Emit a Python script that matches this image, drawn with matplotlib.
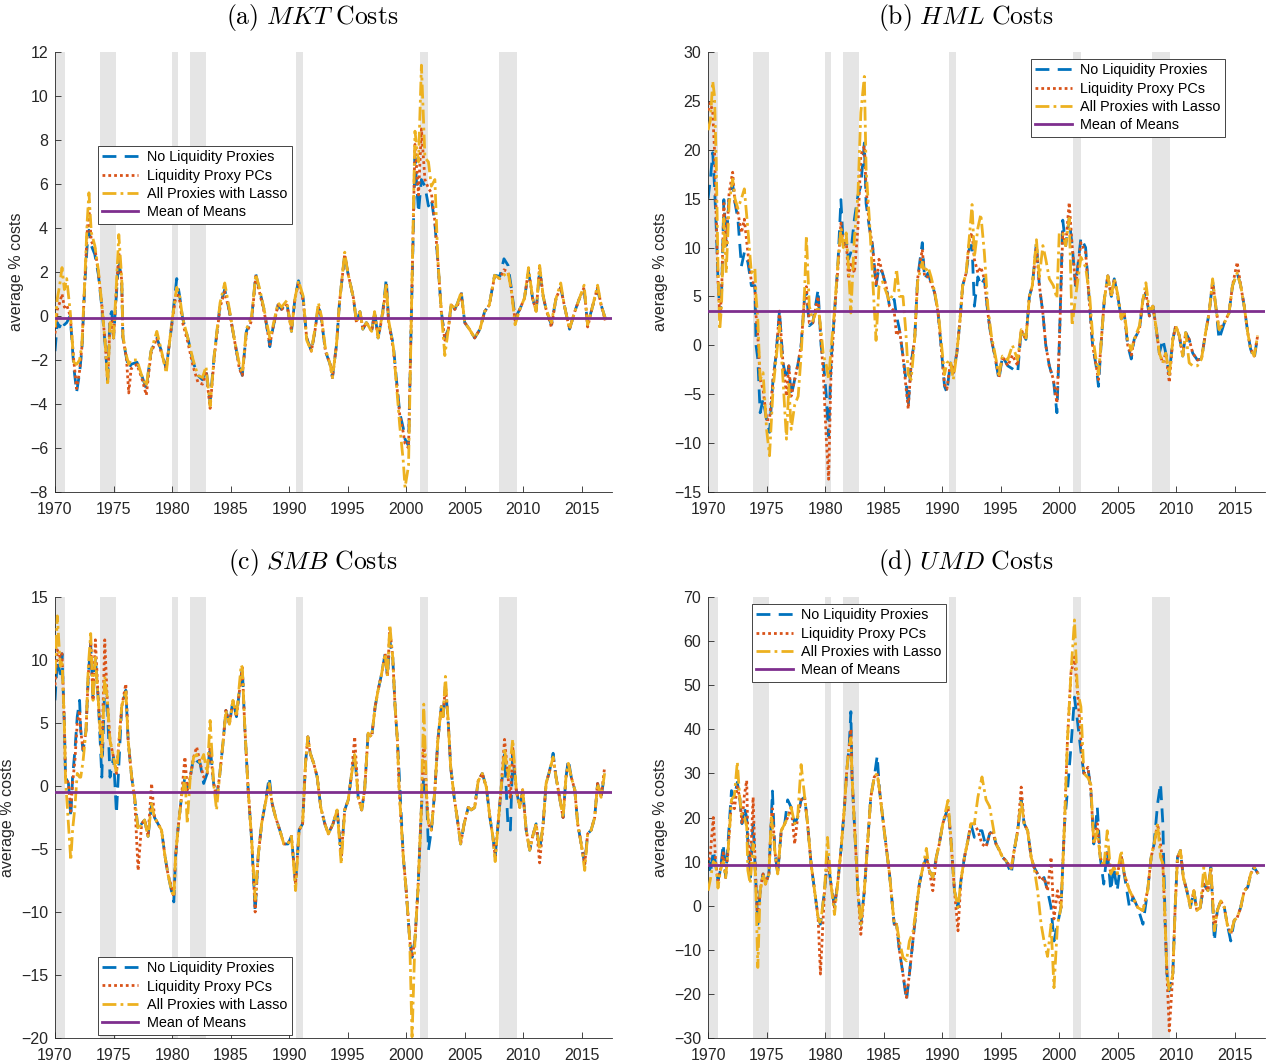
import matplotlib.pyplot as plt
from matplotlib.lines import Line2D

plt.rcParams["font.family"] = ["Liberation Sans", "DejaVu Sans"]
plt.rcParams["mathtext.fontset"] = "cm"

# MATLAB default colours
BLUE = (0.0, 0.447, 0.741)
RED = (0.850, 0.325, 0.098)
YELLOW = (0.929, 0.694, 0.125)
PURPLE = (0.494, 0.184, 0.556)

LABELS = ["No Liquidity Proxies", "Liquidity Proxy PCs",
          "All Proxies with Lasso", "Mean of Means"]

# NBER recessions (decimal years)
RECESSIONS = [(1969.92, 1970.87), (1973.87, 1975.2), (1980.0, 1980.5),
              (1981.5, 1982.87), (1990.55, 1991.2), (2001.2, 2001.87),
              (2007.95, 2009.5)]

# ---------------- (a) MKT ----------------
a_years = [1970.0, 1970.2, 1970.4, 1970.6, 1970.8, 1971.0, 1971.3, 1971.6, 1971.85, 1972.1,
           1972.3, 1972.55, 1972.75, 1972.9, 1973.1, 1973.4, 1973.7, 1974.0, 1974.3, 1974.5,
           1974.7, 1974.85, 1975.0, 1975.25, 1975.45, 1975.7, 1975.8, 1976.1, 1976.3, 1976.5,
           1977.0, 1977.4, 1977.8, 1978.2, 1978.7, 1979.1, 1979.5, 1979.95, 1980.4, 1980.65,
           1980.9, 1981.35, 1981.8, 1982.2, 1982.6, 1982.9, 1983.25, 1983.6, 1984.1, 1984.5,
           1984.9, 1985.3, 1985.75, 1986.0, 1986.35, 1986.8, 1987.15, 1987.5, 1987.9, 1988.35,
           1988.6, 1989.05, 1989.35, 1989.8, 1990.2, 1990.5, 1990.8, 1991.2, 1991.5, 1991.9,
           1992.2, 1992.5, 1992.75, 1993.1, 1993.5, 1993.7, 1994.05, 1994.3, 1994.75, 1995.0,
           1995.5, 1995.75, 1996.05, 1996.3, 1996.6, 1997.05, 1997.3, 1997.6, 1998.0, 1998.3,
           1998.5, 1998.9, 1999.15, 1999.45, 1999.75, 1999.9, 2000.2, 2000.45, 2000.75, 2001.05,
           2001.3, 2001.6, 2001.9, 2002.15, 2002.45, 2002.7, 2003.0, 2003.3, 2003.6, 2003.85,
           2004.15, 2004.4, 2004.7, 2005.0, 2005.4, 2005.85, 2006.3, 2006.7, 2007.1, 2007.55,
           2008.0, 2008.35, 2008.7, 2009.0, 2009.3, 2009.7, 2010.1, 2010.45, 2010.8, 2011.1,
           2011.4, 2011.7, 2011.95, 2012.4, 2012.8, 2013.2, 2013.5, 2013.95, 2014.4, 2014.8,
           2015.2, 2015.5, 2015.95, 2016.35, 2016.65, 2017.0]
a_none = [-1.6, -0.3, -0.5, -0.2, -0.4, -0.3, 0.0, -2.3, -3.45, -2.6,
          -1.5, 1.5, 3.2, 3.9, 3.2, 2.8, 1.9, 0.4, -1.4, -2.9,
          0.0, 0.2, -1.0, 1.0, 2.6, 1.5, -1.0, -1.9, -2.4, -2.2,
          -2.1, -2.7, -3.3, -1.6, -1.0, -1.6, -2.4, -0.5, 1.7, 0.9,
          -0.1, -1.0, -2.1, -2.7, -2.9, -2.4, -3.9, -1.8, 0.5, 1.2,
          0.2, -1.0, -2.3, -2.7, -0.7, -0.1, 1.9, 1.1, 0.2, -1.4,
          -0.6, 0.5, 0.3, 0.6, -0.7, 0.8, 1.6, 0.8, -1.0, -1.6,
          -0.7, 0.5, -0.1, -1.6, -2.2, -2.8, -1.3, 0.6, 2.8, 2.0,
          0.8, -0.3, 0.2, -0.6, -0.3, -0.7, 0.2, -1.0, 0.2, 1.7,
          -0.3, -1.3, -2.8, -4.4, -5.1, -5.6, -5.9, 0.2, 7.2, 4.7,
          6.2, 5.9, 5.0, 5.3, 4.2, 2.5, 0.2, -1.0, -0.6, 0.6,
          0.3, 0.6, 1.1, -0.3, -0.6, -1.0, -0.6, 0.2, 0.5, 1.85,
          1.8, 2.6, 2.3, 1.2, -0.1, 0.3, 0.8, 2.0, 0.8, 0.2,
          2.1, 0.9, 0.3, -0.4, 0.8, 1.3, 0.5, -0.6, 0.2, 0.8,
          1.2, -0.4, 0.5, 1.2, 0.5, -0.1]
a_pcs = [-0.8, 0.3, 0.6, 1.0, 0.4, 0.5, 0.0, -2.0, -3.3, -2.5,
         -1.4, 1.6, 3.8, 4.9, 3.4, 3.1, 2.0, 0.5, -1.3, -3.0,
         -0.3, -0.2, -1.0, 1.2, 2.9, 1.6, -1.0, -1.9, -3.5, -2.4,
         -2.2, -2.8, -3.6, -1.7, -1.0, -1.7, -2.4, -0.5, 1.2, 0.7,
         -0.3, -1.2, -2.3, -3.0, -3.1, -2.5, -4.2, -1.9, 0.4, 1.1,
         0.2, -1.0, -2.4, -2.7, -0.8, -0.2, 1.8, 1.0, 0.1, -1.3,
         -0.6, 0.5, 0.3, 0.5, -0.6, 0.8, 1.5, 0.7, -1.0, -1.6,
         -0.7, 0.4, -0.1, -1.6, -2.2, -2.8, -1.3, 0.6, 2.8, 2.0,
         0.8, -0.3, 0.2, -0.6, -0.3, -0.7, 0.1, -1.0, 0.1, 1.4,
         -0.3, -1.5, -2.9, -4.5, -5.3, -5.8, -6.0, 0.2, 7.8, 5.5,
         8.5, 6.2, 5.8, 5.6, 4.3, 2.5, 0.2, -1.1, -0.6, 0.5,
         0.3, 0.5, 1.0, -0.3, -0.6, -1.0, -0.6, 0.2, 0.5, 1.8,
         1.7, 2.1, 2.0, 1.1, -0.2, 0.3, 0.8, 2.1, 0.8, 0.2,
         2.2, 0.9, 0.3, -0.5, 0.8, 1.3, 0.5, -0.6, 0.2, 0.8,
         1.3, -0.5, 0.5, 1.3, 0.5, -0.2]
a_lasso = [-0.5, 0.8, 1.4, 2.2, 1.2, 1.7, 0.2, -2.1, -2.2, -2.0,
           -1.3, 1.7, 4.3, 5.6, 3.8, 3.2, 2.1, 0.5, -1.3, -3.15,
           -0.3, -0.4, -1.0, 1.5, 3.7, 1.7, -0.9, -1.8, -2.2, -2.0,
           -2.0, -2.7, -3.2, -1.6, -0.7, -1.6, -2.6, -0.4, 1.3, 0.9,
           -0.1, -1.0, -2.0, -2.7, -2.8, -2.3, -4.1, -1.8, 0.6, 1.5,
           0.3, -1.0, -2.2, -2.6, -0.6, 0.0, 1.9, 1.2, 0.2, -1.0,
           -0.5, 0.6, 0.4, 0.7, -0.7, 0.8, 1.6, 0.9, -1.1, -1.6,
           -0.6, 0.6, 0.0, -1.5, -2.2, -2.8, -1.3, 0.6, 2.9, 2.0,
           0.8, -0.3, 0.2, -0.6, -0.3, -0.7, 0.2, -1.0, 0.2, 1.5,
           -0.2, -1.4, -3.0, -5.0, -6.6, -7.8, -6.8, 0.3, 8.4, 7.0,
           11.4, 7.2, 7.0, 5.9, 6.2, 2.6, 0.2, -1.8, -0.6, 0.6,
           0.3, 0.6, 1.1, -0.3, -0.6, -1.0, -0.6, 0.2, 0.5, 1.85,
           1.7, 1.85, 2.0, 1.1, -0.4, 0.3, 0.8, 2.2, 0.8, 0.2,
           2.3, 0.9, 0.3, -0.3, 0.8, 1.5, 0.5, -0.6, 0.2, 0.8,
           1.4, -0.4, 0.5, 1.4, 0.5, -0.1]

# ---------------- (b) HML ----------------
b_years = [1970.0, 1970.2, 1970.4, 1970.55, 1970.7, 1970.85, 1971.0, 1971.15, 1971.35, 1971.55,
           1971.8, 1972.1, 1972.3, 1972.55, 1972.85, 1973.1, 1973.4, 1973.7, 1974.0, 1974.1,
           1974.25, 1974.45, 1974.7, 1975.0, 1975.25, 1975.55, 1975.8, 1976.1, 1976.4, 1976.7,
           1976.9, 1977.1, 1977.4, 1977.7, 1977.95, 1978.25, 1978.4, 1978.65, 1978.95, 1979.4,
           1979.65, 1979.85, 1980.1, 1980.3, 1980.5, 1980.8, 1981.1, 1981.35, 1981.55, 1981.8,
           1982.0, 1982.2, 1982.5, 1982.8, 1983.05, 1983.35, 1983.5, 1983.8, 1984.05, 1984.35,
           1984.6, 1984.9, 1985.2, 1985.5, 1985.9, 1986.1, 1986.35, 1986.65, 1986.9, 1987.1,
           1987.35, 1987.65, 1987.9, 1988.3, 1988.5, 1988.8, 1989.05, 1989.35, 1989.65, 1989.9,
           1990.2, 1990.4, 1990.7, 1990.95, 1991.25, 1991.5, 1991.75, 1992.05, 1992.35, 1992.55,
           1992.75, 1993.05, 1993.3, 1993.6, 1993.9, 1994.2, 1994.45, 1994.85, 1995.15, 1995.6,
           1996.0, 1996.45, 1996.75, 1997.15, 1997.45, 1997.7, 1998.05, 1998.3, 1998.6, 1998.85,
           1999.15, 1999.5, 1999.8, 2000.0, 2000.3, 2000.55, 2000.85, 2001.1, 2001.4, 2001.85,
           2002.25, 2002.6, 2002.85, 2003.15, 2003.35, 2003.6, 2003.85, 2004.15, 2004.45, 2004.7,
           2005.0, 2005.3, 2005.55, 2005.85, 2006.15, 2006.4, 2006.85, 2007.15, 2007.4, 2007.7,
           2008.0, 2008.25, 2008.55, 2008.85, 2009.1, 2009.4, 2009.7, 2009.95, 2010.25, 2010.55,
           2010.8, 2011.1, 2011.4, 2011.8, 2012.15, 2012.5, 2012.8, 2013.1, 2013.4, 2013.65,
           2014.1, 2014.5, 2014.8, 2015.2, 2015.5, 2015.8, 2016.1, 2016.35, 2016.65, 2016.95]
b_none = [15.0, 17.0, 19.7, 16.3, 12.0, 6.8, 3.3, 5.0, 14.9, 10.2,
          15.3, 16.5, 14.6, 12.9, 8.1, 9.5, 8.5, 6.1, 6.1, 0.0,
          -1.4, -6.9, -5.5, -7.6, -8.9, -3.5, -1.1, 3.5, -1.8, -3.5,
          -2.1, -5.2, -3.5, -1.8, 0.0, 5.0, 5.4, 2.0, 2.3, 5.7,
          0.0, -1.8, -5.2, -9.3, -1.8, 3.3, 8.5, 14.9, 10.2, 10.8,
          8.8, 9.5, 12.9, 15.3, 16.3, 20.7, 14.5, 11.9, 10.2, 6.1,
          8.0, 7.4, 6.1, 4.0, 4.7, 3.0, 1.6, -1.1, -3.5, -6.2,
          -1.8, 0.6, 6.8, 10.5, 6.8, 7.4, 6.4, 5.4, 3.3, 0.0,
          -4.2, -4.8, -1.8, -2.8, -0.8, 2.3, 6.1, 7.4, 10.2, 10.2,
          4.0, 7.0, 6.1, 6.8, 3.3, 0.6, -0.8, -3.5, -1.1, -2.1,
          -2.4, -2.8, 1.6, 0.6, 5.0, 6.1, 10.5, 6.1, 3.3, 0.0,
          -2.1, -3.5, -6.9, 0.0, 12.8, 10.2, 13.0, 10.2, 6.1, 11.0,
          10.0, 4.0, 0.0, -2.1, -4.2, 0.6, 4.7, 7.1, 5.0, 6.8,
          5.0, 2.7, 3.3, 0.0, -1.4, 0.6, 1.6, 4.7, 5.4, 3.0,
          4.0, 2.0, -0.8, 0.6, -0.8, -3.0, 0.6, 2.0, 1.0, -1.1,
          1.3, 0.6, -0.8, -1.5, -1.4, 1.3, 3.3, 6.5, 3.7, 0.6,
          2.3, 3.3, 6.1, 7.4, 6.1, 4.0, 1.3, -0.4, -1.4, 1.0]
b_pcs = [24.0, 24.8, 23.8, 20.0, 13.0, 6.5, 3.0, 5.0, 14.5, 10.2,
         15.6, 17.7, 14.6, 13.6, 11.5, 12.9, 9.5, 6.5, 6.3, 3.0,
         1.0, -3.5, -4.5, -7.6, -7.6, -3.5, -1.1, 3.5, -1.8, -5.2,
         -2.1, -5.2, -3.5, -1.8, 0.0, 5.0, 6.0, 2.3, 2.3, 5.0,
         0.5, -3.0, -9.6, -13.7, -3.0, 3.3, 8.0, 12.5, 10.2, 10.8,
         6.8, 8.5, 7.4, 12.0, 19.4, 20.4, 16.0, 11.9, 10.2, 6.1,
         8.8, 7.4, 6.1, 4.0, 3.5, 1.0, 1.6, -1.1, -4.2, -6.5,
         -1.8, 0.6, 6.8, 9.8, 7.0, 7.0, 6.4, 5.4, 3.3, 0.0,
         -4.0, -4.5, -1.8, -2.8, -0.8, 2.3, 6.1, 7.4, 11.0, 11.5,
         8.8, 7.4, 8.0, 6.8, 3.3, 0.6, -0.8, -3.3, -1.1, -2.1,
         -1.0, -2.1, 1.6, 0.6, 5.0, 6.1, 10.1, 6.1, 3.3, 0.0,
         -2.1, -3.5, -5.9, 0.0, 11.5, 10.2, 14.6, 10.2, 6.1, 10.5,
         9.5, 4.0, 0.0, -2.1, -3.5, 0.6, 4.7, 7.1, 5.0, 6.8,
         5.0, 2.7, 3.3, 0.0, -1.0, 0.6, 1.6, 4.7, 5.4, 3.0,
         4.0, 2.0, -0.8, -1.8, -0.8, -3.8, 0.6, 2.0, 1.0, -1.1,
         1.3, 0.6, -0.8, -1.5, -1.4, 1.3, 3.3, 6.5, 3.7, 1.6,
         2.3, 3.3, 6.1, 8.5, 6.1, 4.0, 1.3, -0.4, -1.1, 1.0]
b_lasso = [22.0, 23.0, 27.0, 25.5, 18.7, 8.0, 1.6, 4.0, 13.0, 7.4,
           14.5, 17.0, 15.0, 14.0, 15.0, 16.0, 11.9, 7.4, 7.9, 5.0,
           2.7, -3.5, -2.8, -8.6, -11.3, -4.5, -1.5, 2.0, -3.5, -9.6,
           -4.0, -8.6, -6.1, -5.2, -1.0, 5.7, 11.2, 4.0, 2.5, 4.0,
           1.5, -1.0, -2.0, -3.5, -0.5, 3.5, 8.5, 12.0, 10.0, 11.5,
           8.0, 3.3, 11.0, 15.3, 23.8, 27.5, 18.0, 12.5, 7.0, 0.5,
           6.0, 6.5, 5.5, 4.5, 5.5, 7.8, 5.0, 5.0, 1.3, -3.0,
           -3.5, 0.6, 6.5, 8.5, 7.5, 8.0, 7.0, 5.5, 3.5, 0.5,
           -3.0, -1.8, -1.5, -3.5, -0.8, 2.3, 6.1, 7.4, 11.5, 14.4,
           9.0, 12.0, 13.4, 9.5, 4.0, 1.0, -0.5, -3.0, -1.1, -1.5,
           0.0, -1.5, 1.6, 0.6, 5.0, 6.1, 10.8, 7.0, 10.2, 8.8,
           6.8, 6.1, 4.8, 11.5, 11.5, 10.2, 13.0, 2.0, 5.0, 9.0,
           8.0, 5.0, 1.0, -1.5, -3.0, 0.6, 4.7, 7.1, 5.0, 6.8,
           5.2, 2.7, 3.5, 0.5, -0.5, 0.6, 2.0, 4.7, 6.4, 3.5,
           4.0, 2.0, -0.8, -1.8, -0.8, -3.0, 0.6, 2.0, 1.0, -1.1,
           1.3, -1.8, -2.1, -2.1, -1.4, 1.3, 3.3, 6.8, 3.7, 1.6,
           2.3, 3.3, 6.1, 7.4, 6.1, 4.0, 1.3, -0.4, -1.1, 1.0]

# ---------------- (c) SMB ----------------
c_years = [1970.0, 1970.2, 1970.45, 1970.6, 1970.8, 1970.9, 1971.15, 1971.35, 1971.5, 1971.7,
           1971.9, 1972.1, 1972.2, 1972.4, 1972.65, 1972.85, 1973.05, 1973.25, 1973.45, 1973.7,
           1974.0, 1974.25, 1974.45, 1974.7, 1975.0, 1975.25, 1975.7, 1976.05, 1976.25, 1976.55,
           1976.8, 1977.1, 1977.4, 1977.65, 1977.95, 1978.25, 1978.5, 1978.8, 1979.1, 1979.4,
           1979.65, 1979.95, 1980.15, 1980.3, 1980.5, 1980.8, 1981.1, 1981.3, 1981.55, 1981.85,
           1982.1, 1982.4, 1982.7, 1983.0, 1983.25, 1983.55, 1983.8, 1984.05, 1984.35, 1984.6,
           1984.9, 1985.2, 1985.5, 1985.9, 1986.0, 1986.2, 1986.5, 1986.8, 1987.1, 1987.35,
           1987.65, 1987.9, 1988.3, 1988.55, 1988.85, 1989.2, 1989.55, 1989.9, 1990.2, 1990.55,
           1990.85, 1991.15, 1991.4, 1991.6, 1991.8, 1992.1, 1992.4, 1992.7, 1993.05, 1993.35,
           1993.75, 1994.1, 1994.45, 1994.75, 1995.05, 1995.3, 1995.6, 1995.9, 1996.2, 1996.45,
           1996.75, 1997.05, 1997.35, 1997.6, 1997.9, 1998.2, 1998.4, 1998.6, 1998.85, 1999.05,
           1999.25, 1999.4, 1999.75, 2000.0, 2000.3, 2000.5, 2000.75, 2001.0, 2001.3, 2001.5,
           2001.75, 2001.9, 2002.15, 2002.45, 2002.7, 2003.0, 2003.15, 2003.35, 2003.6, 2003.8,
           2004.1, 2004.35, 2004.65, 2004.95, 2005.3, 2005.55, 2005.85, 2006.15, 2006.5, 2006.85,
           2007.15, 2007.4, 2007.6, 2007.85, 2008.1, 2008.4, 2008.7, 2008.9, 2009.1, 2009.4,
           2009.7, 2009.95, 2010.25, 2010.55, 2010.8, 2011.1, 2011.4, 2011.7, 2011.95, 2012.25,
           2012.55, 2012.8, 2013.1, 2013.4, 2013.65, 2013.85, 2014.1, 2014.4, 2014.65, 2014.95,
           2015.25, 2015.5, 2015.8, 2016.1, 2016.35, 2016.65, 2016.95]
c_none = [6.8, 10.0, 8.9, 10.5, 4.9, 0.7, 0.2, -2.5, 0.7, 2.8,
          5.5, 6.8, 4.4, 2.8, 4.4, 8.9, 11.3, 6.8, 10.2, 6.8,
          0.7, 8.0, 7.1, 0.7, 2.3, -2.2, 6.3, 7.6, 3.6, 0.7,
          -0.9, -3.5, -3.0, -2.7, -4.0, -1.4, -2.5, -3.0, -3.5, -5.6,
          -7.0, -8.3, -9.2, -5.6, -3.5, -0.9, 0.7, -0.3, 0.7, 2.3,
          2.0, 1.8, 0.2, 1.0, 3.1, 0.2, -0.9, 0.7, 3.4, 6.0,
          4.9, 6.8, 5.5, 8.7, 9.4, 4.9, -0.3, -4.3, -10.0, -5.6,
          -3.0, -1.7, 0.7, -1.4, -2.5, -3.5, -4.6, -4.6, -4.0, -7.8,
          -3.5, -3.0, 1.8, 3.9, 2.6, 1.8, 0.7, -1.7, -3.0, -3.8,
          -3.0, -1.9, -5.5, -1.9, -1.1, 0.7, 2.5, -0.9, -1.9, -0.3,
          4.2, 3.9, 6.3, 7.6, 8.9, 10.5, 8.7, 11.5, 10.2, 6.3,
          3.6, 1.0, -5.6, -8.3, -12.2, -13.6, -12.2, -8.3, -1.7, 0.7,
          -0.9, -5.1, -3.5, -0.3, 3.6, 6.3, 5.5, 8.0, 4.9, 1.5,
          -0.9, -2.5, -4.6, -3.0, -1.7, -1.9, -1.7, 0.4, 1.0, -0.1,
          -2.5, -4.0, -5.6, -3.0, -0.3, 2.5, -3.3, -3.5, 2.5, -0.3,
          -1.7, -0.3, -3.5, -5.1, -4.0, -3.0, -5.1, -3.0, 0.2, 1.2,
          2.6, 0.7, -0.9, -2.5, 0.7, 2.1, 0.7, -0.3, -3.0, -4.6,
          -6.2, -3.8, -3.5, -2.5, 0.2, -0.9, 1.0]
c_pcs = [8.0, 10.8, 10.2, 10.5, 4.9, 0.7, 0.2, -2.0, 0.2, 2.0,
         5.0, 6.0, 4.4, 2.8, 4.4, 8.9, 11.3, 6.8, 11.6, 6.8,
         2.3, 11.6, 7.1, 3.6, 2.3, 1.0, 6.3, 8.1, 3.6, 0.7,
         -0.9, -6.7, -3.0, -2.7, -4.0, 0.2, -2.5, -3.0, -3.5, -5.6,
         -7.0, -8.0, -8.8, -5.6, -3.5, -0.9, 2.3, -0.3, 0.7, 2.3,
         3.1, 1.8, 0.7, 1.0, 3.1, 0.2, -0.9, 0.7, 3.4, 6.0,
         4.9, 6.8, 5.5, 8.7, 9.4, 4.9, -0.3, -4.3, -10.0, -5.6,
         -3.0, -1.7, 0.2, -1.4, -2.5, -3.5, -4.6, -4.6, -4.0, -7.8,
         -3.5, -3.0, 1.8, 3.9, 2.6, 1.8, 0.7, -1.7, -3.0, -3.8,
         -3.0, -1.9, -5.5, -1.9, -1.1, 0.7, 3.9, -0.9, -1.9, -0.3,
         4.2, 3.9, 6.3, 7.6, 8.9, 10.5, 8.7, 12.5, 10.2, 6.3,
         3.6, -0.3, -5.6, -8.3, -12.2, -13.6, -12.2, -8.3, -1.7, 4.0,
         -0.9, -3.0, -3.5, -0.3, 3.6, 6.3, 5.5, 8.0, 4.9, 1.5,
         -0.9, -2.5, -4.6, -3.0, -1.7, -1.9, -1.7, 0.4, 1.0, -0.1,
         -2.5, -4.0, -5.6, -3.0, -0.3, 3.7, 0.7, -1.0, 3.0, -0.3,
         -1.7, -0.3, -3.5, -5.1, -4.0, -3.0, -6.1, -3.0, 0.2, 1.2,
         2.3, 0.7, -0.9, -2.5, 0.7, 1.8, 0.7, -0.3, -3.0, -4.6,
         -6.2, -3.8, -3.5, -2.5, 0.2, -0.9, 1.5]
c_lasso = [8.9, 13.5, 9.5, 10.0, 4.9, 0.5, -3.0, -5.9, -3.5, -1.7,
           1.0, 0.7, 0.7, 2.0, 4.4, 9.5, 12.1, 6.8, 10.2, 6.8,
           2.3, 8.7, 7.1, 3.6, 2.3, 1.0, 6.3, 7.6, 3.6, 0.7,
           -0.9, -3.5, -3.0, -2.7, -4.0, -1.4, -2.5, -3.0, -3.5, -5.6,
           -7.0, -8.3, -8.8, -5.6, -3.5, -0.9, 0.7, -3.0, 0.7, 2.3,
           2.5, 1.8, 2.5, 1.0, 5.2, 0.2, -1.9, 0.7, 3.4, 6.0,
           4.9, 6.8, 5.5, 9.6, 9.4, 4.9, -0.3, -4.3, -9.0, -5.6,
           -3.0, -1.7, 0.2, -1.4, -2.5, -3.5, -4.6, -4.6, -4.0, -8.3,
           -3.5, -3.0, 1.8, 3.9, 2.6, 1.8, 0.7, -1.7, -3.0, -3.8,
           -3.0, -1.9, -6.2, -1.9, -1.1, 0.7, 2.5, -0.9, -1.9, -0.3,
           4.2, 3.9, 6.3, 7.6, 8.9, 10.5, 8.7, 12.8, 10.2, 6.3,
           3.6, -0.3, -5.6, -8.3, -12.2, -19.9, -12.2, -8.3, -1.7, 6.5,
           -0.9, -3.0, -3.5, -0.3, 3.6, 6.3, 5.5, 8.7, 4.9, 1.5,
           -0.9, -2.5, -4.6, -3.0, -1.7, -1.9, -1.7, 0.4, 1.0, -0.1,
           -2.5, -4.0, -6.0, -3.0, -0.3, 3.0, 0.7, 2.0, 3.7, -0.3,
           -1.7, -0.3, -3.5, -5.1, -4.0, -3.0, -5.1, -3.0, 0.2, 1.2,
           2.3, 0.7, -0.9, -2.5, 0.7, 1.8, 0.7, -0.3, -3.0, -4.6,
           -6.7, -3.8, -3.5, -2.5, 0.2, -0.9, 1.0]

# ---------------- (d) UMD ----------------
d_years = [1970.0, 1970.2, 1970.45, 1970.65, 1970.85, 1971.05, 1971.3, 1971.5, 1971.7, 1972.0,
           1972.25, 1972.5, 1972.7, 1972.9, 1973.1, 1973.3, 1973.4, 1973.6, 1973.85, 1974.05,
           1974.25, 1974.45, 1974.7, 1974.9, 1975.2, 1975.4, 1975.5, 1975.7, 1975.95, 1976.25,
           1976.55, 1976.8, 1977.1, 1977.4, 1977.65, 1977.95, 1978.25, 1978.5, 1978.8, 1979.1,
           1979.4, 1979.6, 1979.95, 1980.2, 1980.5, 1980.8, 1981.1, 1981.35, 1981.65, 1981.85,
           1982.05, 1982.2, 1982.3, 1982.5, 1982.8, 1983.05, 1983.35, 1983.65, 1983.9, 1984.2,
           1984.45, 1984.65, 1985.05, 1985.5, 1985.9, 1986.1, 1986.35, 1986.65, 1986.95, 1987.2,
           1987.5, 1987.8, 1988.05, 1988.35, 1988.65, 1988.9, 1989.2, 1989.5, 1989.75, 1990.05,
           1990.5, 1990.75, 1991.05, 1991.35, 1991.6, 1991.9, 1992.2, 1992.45, 1992.75, 1993.05,
           1993.4, 1993.75, 1994.05, 1994.3, 1994.6, 1994.9, 1995.15, 1995.45, 1995.9, 1996.15,
           1996.45, 1996.75, 1997.0, 1997.3, 1997.6, 1997.85, 1998.15, 1998.45, 1998.7, 1999.0,
           1999.3, 1999.55, 1999.85, 2000.15, 2000.45, 2000.7, 2001.0, 2001.3, 2001.55, 2001.85,
           2002.1, 2002.45, 2002.7, 2002.95, 2003.25, 2003.5, 2003.8, 2004.1, 2004.4, 2004.65,
           2004.95, 2005.3, 2005.55, 2006.0, 2006.3, 2006.7, 2007.15, 2007.55, 2007.85, 2008.1,
           2008.4, 2008.65, 2008.85, 2009.05, 2009.2, 2009.4, 2009.7, 2009.9, 2010.1, 2010.35,
           2010.6, 2010.9, 2011.2, 2011.5, 2011.75, 2012.05, 2012.35, 2012.7, 2012.95, 2013.25,
           2013.5, 2013.8, 2014.1, 2014.35, 2014.65, 2014.95, 2015.2, 2015.5, 2015.8, 2016.1,
           2016.35, 2016.65, 2017.0]
d_none = [11.0, 7.2, 12.5, 9.5, 5.7, 8.0, 14.0, 6.4, 14.0, 26.1,
          24.6, 28.0, 24.6, 18.6, 22.3, 20.0, 14.0, 6.4, 18.6, 7.2,
          -4.2, 3.4, 7.2, 4.9, 7.2, 20.0, 26.0, 12.5, 7.2, 17.0,
          18.6, 24.0, 22.3, 18.6, 20.0, 24.0, 24.6, 18.6, 9.5, 3.4,
          -2.7, -4.2, 3.4, 11.0, 4.9, -0.4, 5.7, 12.5, 22.3, 30.7,
          36.0, 44.0, 29.2, 18.6, 3.4, -4.2, 3.4, 14.8, 24.6, 29.2,
          34.0, 26.1, 17.0, 7.2, -4.2, -4.2, -10.2, -15.5, -21.5, -15.5,
          -8.0, -0.4, 4.9, 8.7, 11.0, 8.0, 6.4, 11.0, 14.0, 18.6,
          22.3, 14.8, 3.4, -0.4, 5.7, 11.0, 14.8, 18.6, 15.5, 17.0,
          17.0, 13.3, 16.3, 17.0, 14.0, 12.5, 11.0, 10.2, 7.2, 12.5,
          17.0, 23.9, 18.6, 17.0, 11.0, 8.7, 7.2, 5.7, 6.4, 3.4,
          -0.4, -8.0, -4.2, -0.4, 18.6, 26.0, 36.0, 47.3, 42.0, 35.0,
          30.0, 31.4, 26.1, 14.0, 22.3, 11.0, 4.9, 12.5, 3.4, 8.7,
          3.4, 11.0, 7.2, -0.4, 1.9, -0.4, -4.2, 3.4, 11.0, 14.0,
          23.1, 27.7, 18.6, -4.2, -15.5, -19.3, -15.5, -0.4, 11.0, 12.5,
          6.4, 3.4, -0.4, 3.4, -1.1, -0.4, 4.9, 3.4, 8.7, -8.0,
          -1.1, 1.1, -0.4, -4.2, -8.0, -3.3, -2.7, -0.4, 3.4, 4.2,
          7.2, 8.7, 7.2]
d_pcs = [9.0, 12.0, 20.0, 10.0, 5.7, 8.0, 12.0, 6.4, 12.0, 24.0,
         22.0, 27.0, 24.6, 18.6, 25.0, 28.4, 16.0, 8.0, 24.6, 7.2,
         -4.2, 3.4, 7.2, 4.9, 7.2, 20.0, 22.0, 12.5, 7.2, 17.0,
         18.6, 20.0, 22.3, 14.0, 20.0, 24.0, 24.6, 18.6, 9.5, 3.4,
         -2.7, -15.5, 3.4, 11.0, 4.9, -0.4, 5.7, 12.5, 22.3, 30.7,
         36.0, 40.0, 29.2, 18.6, 3.4, -6.5, 3.4, 14.8, 24.6, 29.2,
         30.0, 26.1, 17.0, 7.2, -4.2, -4.2, -10.2, -15.5, -20.8, -15.5,
         -8.0, -0.4, 4.9, 8.7, 11.0, 8.0, 3.4, 11.0, 14.0, 18.6,
         22.3, 14.8, 3.4, -5.7, 5.7, 11.0, 14.8, 18.6, 18.6, 17.0,
         14.0, 13.3, 16.3, 17.0, 14.0, 12.5, 11.0, 10.2, 8.5, 12.5,
         17.0, 26.9, 18.6, 17.0, 11.0, 8.7, 7.2, 5.7, 6.4, 3.4,
         11.0, -3.0, 3.4, -0.4, 18.6, 37.5, 52.7, 56.4, 48.9, 37.5,
         30.0, 31.4, 26.1, 14.0, 18.6, 11.0, 8.7, 12.5, 7.2, 8.7,
         7.2, 11.0, 7.2, 3.4, 1.9, -0.4, -1.1, 3.4, 11.0, 14.0,
         18.6, 14.0, 9.5, -4.2, -15.5, -28.4, -15.5, -0.4, 11.0, 12.5,
         6.4, 3.4, -0.4, 3.4, -1.1, -0.4, 4.9, 3.4, 8.7, -5.7,
         -1.1, 1.1, -0.4, -4.2, -6.4, -3.3, -2.7, -0.4, 3.4, 4.2,
         7.2, 8.7, 7.2]
d_lasso = [3.4, 6.0, 10.0, 9.5, 4.0, 8.0, 10.0, 6.4, 12.0, 24.0,
           25.0, 32.6, 24.6, 20.0, 20.0, 18.0, 8.0, 5.0, 14.0, 7.2,
           -14.0, 3.4, 7.2, 4.9, 7.2, 20.0, 18.0, 12.5, 7.2, 17.0,
           18.6, 20.0, 22.3, 18.6, 20.0, 32.0, 24.6, 18.6, 9.5, 3.4,
           -2.7, -4.2, 3.4, 15.5, 4.9, -2.0, 5.7, 12.5, 22.3, 30.7,
           36.0, 38.0, 29.2, 18.6, 3.4, -4.2, 3.4, 14.8, 24.6, 29.2,
           30.0, 26.1, 17.0, 7.2, -4.2, -4.2, -8.0, -11.7, -12.5, -8.0,
           -6.0, -0.4, 4.9, 8.7, 13.0, 8.0, 6.4, 11.0, 14.0, 18.6,
           23.9, 14.8, 3.4, -0.4, 5.7, 11.0, 14.8, 18.6, 18.6, 24.6,
           29.2, 24.0, 22.5, 18.6, 14.0, 12.5, 11.0, 10.2, 8.5, 12.5,
           17.0, 23.9, 18.6, 17.0, 11.0, 8.7, 3.4, -4.2, -8.0, -11.5,
           -4.2, -18.6, -4.2, -0.4, 18.6, 37.5, 52.7, 64.8, 48.9, 45.1,
           30.0, 29.0, 27.5, 14.0, 17.0, 11.0, 8.7, 17.0, 7.2, 8.7,
           7.2, 12.5, 7.2, 3.4, 1.9, -0.4, -1.1, 3.4, 11.0, 14.0,
           18.6, 11.0, 9.5, -4.2, -15.5, -19.3, -15.5, -0.4, 11.0, 12.5,
           6.4, 3.4, -0.4, 3.4, -1.1, -0.4, 8.7, 3.4, 8.7, -5.7,
           -1.1, 1.1, -0.4, -4.2, -6.4, -3.3, -2.7, -0.4, 3.4, 4.2,
           7.2, 8.7, 7.2]

mean_of_means = {"a": -0.1, "b": 3.5, "c": -0.5, "d": 9.3}


panels = [
    # tag, factor, years, none, pcs, lasso, ylim, ystep, axes rect, legend anchor
    ("a", "MKT", a_years, a_none, a_pcs, a_lasso, (-8, 12), 2,
     [0.0430, 0.5372, 0.4355, 0.4139], (0.077, 0.786)),
    ("b", "HML", b_years, b_none, b_pcs, b_lasso, (-15, 30), 5,
     [0.5536, 0.5372, 0.4355, 0.4139], (0.580, 0.984)),
    ("c", "SMB", c_years, c_none, c_pcs, c_lasso, (-20, 15), 5,
     [0.0430, 0.0235, 0.4355, 0.4149], (0.077, 0.184)),
    ("d", "UMD", d_years, d_none, d_pcs, d_lasso, (-30, 70), 10,
     [0.5536, 0.0235, 0.4355, 0.4149], (0.079, 0.984)),
]

STYLE_NONE = (0, (5, 3))
STYLE_PCS = (0, (1, 1.1))
STYLE_LASSO = (0, (5, 1.5, 1, 1.5))

fig = plt.figure(figsize=(12.79, 10.63), dpi=100)

for tag, factor, years, none, pcs, lasso, ylim, ystep, rect, anchor in panels:
    ax = fig.add_axes(rect)
    for start, end in RECESSIONS:
        ax.axvspan(start, end, color="#e5e5e5", lw=0, zorder=0)

    ax.plot(years, none, color=BLUE, lw=2.0, ls=STYLE_NONE, zorder=2)
    ax.plot(years, pcs, color=RED, lw=2.0, ls=STYLE_PCS, zorder=3)
    ax.plot(years, lasso, color=YELLOW, lw=2.0, ls=STYLE_LASSO, zorder=4)
    ax.axhline(mean_of_means[tag], color=PURPLE, lw=2.0, zorder=5)

    ax.set_xlim(1970, 2017.58)
    ax.set_ylim(*ylim)
    ax.set_xticks(range(1970, 2016, 5))
    ax.set_yticks(range(ylim[0], ylim[1] + 1, ystep))
    for side in ["top", "right"]:
        ax.spines[side].set_visible(False)
    for side in ["left", "bottom"]:
        ax.spines[side].set_color("0.15")
        ax.spines[side].set_linewidth(0.6)
    ax.tick_params(direction="in", length=4, width=0.6, labelsize=11.5,
                   colors="0.15")
    ax.tick_params(axis="x", pad=7)
    ax.tick_params(axis="y", pad=5)
    ax.set_ylabel("average % costs", fontsize=11.5, color="0.15", labelpad=4)
    ax.set_title(r"$\mathrm{(" + tag + r")}\ " + factor + r"\ \mathrm{Costs}$",
                 fontsize=18.5, pad=20, x=0.462)

    handles = [
        Line2D([], [], color=BLUE, lw=2.0, ls=STYLE_NONE),
        Line2D([], [], color=RED, lw=2.0, ls=STYLE_PCS),
        Line2D([], [], color=YELLOW, lw=2.0, ls=STYLE_LASSO),
        Line2D([], [], color=PURPLE, lw=2.0),
    ]
    leg = ax.legend(handles, LABELS, loc="upper left", bbox_to_anchor=anchor,
                    fontsize=10.4, frameon=True, fancybox=False, framealpha=1,
                    edgecolor="0.15", borderpad=0.3, labelspacing=0.3,
                    handlelength=2.5, handletextpad=0.6, borderaxespad=0)
    leg.get_frame().set_linewidth(0.6)

fig.savefig("out.png", dpi=100)
